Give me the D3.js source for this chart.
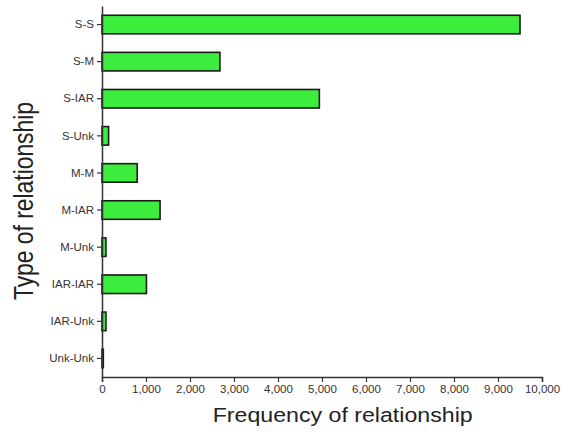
<!DOCTYPE html>
<html><head><meta charset="utf-8">
<script src="https://cdn.jsdelivr.net/npm/d3@7"></script>
<style>body{margin:0;background:#fff}svg{display:block}</style>
</head><body>
<svg id="c" width="564" height="432"></svg>
<script>
const categories = ["S-S","S-M","S-IAR","S-Unk","M-M","M-IAR","M-Unk","IAR-IAR","IAR-Unk","Unk-Unk"];
const values = [9500, 2680, 4940, 150, 800, 1320, 90, 1010, 90, 30];
const xTicks = [0,1000,2000,3000,4000,5000,6000,7000,8000,9000,10000];

(function(){
const svg = d3.select("#c");
const mLeft = 102, mRight = 542, mTop = 6, mBottom = 377;
const font = "Liberation Sans, Arial, sans-serif";
const x = d3.scaleLinear().domain([0,10000]).range([mLeft,mRight]);
const y = d3.scaleBand().domain(categories).range([mTop,mBottom]).paddingInner(0.5).paddingOuter(0.25);

svg.append("g").selectAll("rect").data(categories).join("rect")
  .attr("x", x(0))
  .attr("y", d => y(d))
  .attr("width", (d,i) => x(values[i]) - x(0))
  .attr("height", y.bandwidth())
  .attr("fill", "#3ded3d")
  .attr("stroke", "#1a1a1a")
  .attr("stroke-width", 1.6);

const xa = svg.append("g").attr("transform", `translate(0,${mBottom})`)
  .call(d3.axisBottom(x).tickValues(xTicks).tickSize(5).tickPadding(3).tickFormat(d3.format(",")));
xa.select(".domain").attr("stroke","#333").attr("stroke-width",1.5);
xa.selectAll(".tick line").attr("stroke","#333").attr("stroke-width",1.2);
xa.selectAll("text").attr("font-family",font).attr("font-size",11.5).attr("fill","#333");

const ya = svg.append("g").attr("transform", `translate(${mLeft},0)`)
  .call(d3.axisLeft(y).tickSize(5).tickPadding(3).tickSizeOuter(0));
ya.select(".domain").attr("stroke","#333").attr("stroke-width",1.5);
ya.selectAll(".tick line").attr("stroke","#333").attr("stroke-width",1.2);
ya.selectAll("text").attr("font-family",font).attr("font-size",11.5).attr("fill","#333");

svg.append("text").attr("x", 342.7).attr("y", 422).attr("text-anchor","middle")
  .attr("font-family",font).attr("font-size",20.5).attr("fill","#222")
  .attr("textLength",260).attr("lengthAdjust","spacingAndGlyphs")
  .text("Frequency of relationship");
svg.append("text").attr("transform","translate(33,201) rotate(-90)").attr("text-anchor","middle")
  .attr("font-family",font).attr("font-size",28).attr("fill","#222")
  .attr("textLength",198).attr("lengthAdjust","spacingAndGlyphs")
  .text("Type of relationship");
})();
</script>
</body></html>
